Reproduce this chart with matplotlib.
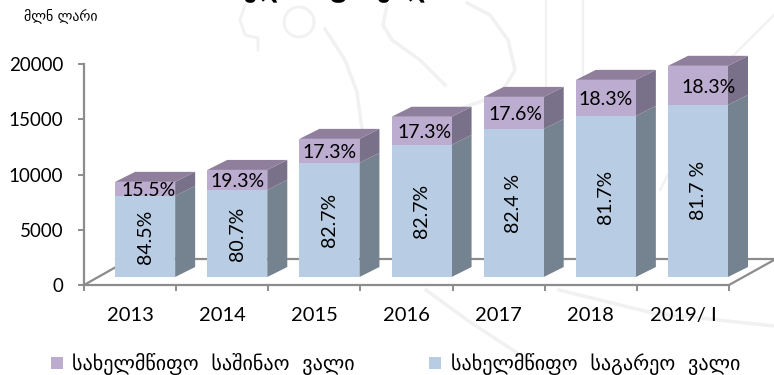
import numpy as np
import matplotlib
matplotlib.use("Agg")
import matplotlib.pyplot as plt

years = ["2013", "2014", "2015", "2016", "2017", "2018", "2019/ I"]
external = [7340, 7880, 10330, 11960, 13400, 14580, 15580]
domestic = [1270, 1810, 2170, 2540, 2900, 3260, 3530]
ext_labels = ["84.5%", "80.7%", "82.7%", "82.7%", "82.4 %", "81.7%", "81.7 %"]
dom_labels = ["15.5%", "19.3%", "17.3%", "17.3%", "17.6%", "18.3%", "18.3%"]
dom_shift = [3, 0, 0, 3, 2, 0, 11]  # px, labels are not all centred
yticks = [0, 5000, 10000, 15000, 20000]

W, H = 774, 375
font = "Lato"
geo = "DejaVu Sans"
grey = "#8c8c8c"
faint = "#f1f1f1"

fig = plt.figure(figsize=(W / 100, H / 100), dpi=100)

# faint watermark behind the chart, in px
bg = fig.add_axes([0, 0, 1, 1], zorder=0)
bg.set_xlim(0, W)
bg.set_ylim(H, 0)
bg.axis("off")
bg.plot([546, 546], [0, 150], color=faint, lw=1.6)
bg.plot([583, 583], [0, 80], color=faint, lw=1.6)
bg.plot([774, 727, 660], [15, 62, 190], color=faint, lw=1.6)
bg.plot([426, 470, 525, 555], [290, 322, 358, 375], color=faint, lw=2.5)
bg.plot([559, 653, 774], [290, 313, 326], color=faint, lw=2.5)
bg.plot([325, 345, 357, 362], [29, 60, 92, 130], color=faint, lw=2.5)
bg.plot([467, 490, 508, 515, 500, 456], [3, 15, 40, 70, 95, 110], color=faint, lw=2.5)
bg.plot([387, 383, 392, 420, 445], [5, 25, 40, 60, 85], color=faint, lw=2.5)
t = np.linspace(0, 2 * np.pi, 40)
bg.plot(299 + 15 * np.cos(t), 22 + 15 * np.sin(t), color=faint, lw=2)
bg.plot([245, 240, 245, 258, 258], [5, 20, 35, 38, 50], color=faint, lw=2)

# axes box in px: x 84..729, y 64..285
ax = fig.add_axes([84 / W, 1 - 285 / H, (729 - 84) / W, (285 - 64) / H], zorder=1)
ax.set_xlim(0, 7)
ax.set_ylim(0, 20000)
ax.patch.set_alpha(0)

xpx = 7 / (729 - 84)
ypx = 20000 / (285 - 64)
dx, dy = 20 * xpx, 10 * ypx
floor = 8 * ypx
width = 60 * xpx
x = np.arange(7) + 1 - 31 * xpx


def draw_block(xc, y0, y1, front, top, side):
    l, r = xc - width / 2, xc + width / 2
    ax.fill([r, r + dx, r + dx, r], [y0, y0 + dy, y1 + dy, y1], color=side, lw=0, zorder=3, clip_on=False)
    if top:
        ax.fill([l, l + dx, r + dx, r], [y1, y1 + dy, y1 + dy, y1], color=top, lw=0, zorder=3, clip_on=False)
    ax.bar(xc, y1 - y0, width=width, bottom=y0, color=front, lw=0, zorder=3, clip_on=False)


# floor lines
ax.plot([0, 32 * xpx], [0, 18 * ypx], color=grey, lw=1.6, clip_on=False, zorder=1)
ax.plot([32 * xpx, 7 + 45 * xpx], [26 * ypx, 26 * ypx], color=grey, lw=1.6, clip_on=False, zorder=1)
ax.plot([7, 7 + 45 * xpx], [0, 25 * ypx], color=grey, lw=1.6, clip_on=False, zorder=1)

for i in range(7):
    e0 = floor
    e1 = floor + external[i]
    d1 = e1 + domestic[i]
    draw_block(x[i], e0, e1, "#b8cce4", None, "#74838f")
    draw_block(x[i], e1, d1, "#bbacd0", "#8f7f9c", "#79708a")
    ax.text(x[i], (e0 + e1) / 2, ext_labels[i], rotation=90, ha="center", va="center",
            fontsize=14, family=font, color="black", zorder=5)
    ax.text(x[i] + dom_shift[i] * xpx, (e1 + d1) / 2 - 2 * ypx, dom_labels[i], ha="center", va="center",
            fontsize=14, family=font, color="black", zorder=5)

for s in ["top", "right"]:
    ax.spines[s].set_visible(False)
for s in ["left", "bottom"]:
    ax.spines[s].set_color(grey)
    ax.spines[s].set_linewidth(1.6)
ax.set_xticks(range(8))
ax.set_xticklabels([])
ax.set_yticks(yticks)
ax.set_yticklabels([str(v) for v in yticks], fontsize=13.5, family=font)
ax.tick_params(axis="both", color=grey, width=1.4, length=4.5)
ax.tick_params(axis="y", pad=10.5)
for i in range(7):
    ax.text(x[i] - 15 * xpx, -2800, years[i], ha="center", va="center", fontsize=14.5, family=font)

fig.text(24 / W, 1 - 16 / H, "მლნ ლარი", fontsize=10, family=geo, va="center")
fig.text(323 / W, 1 + 3 / H, "სახელმწიფო ვალი", fontsize=18, family=geo, ha="center", va="baseline", weight="bold")

fig.patches.append(plt.Rectangle((51 / W, 1 - 369 / H), 12 / W, 12 / H, transform=fig.transFigure, color="#bbacd0", lw=0))
fig.patches.append(plt.Rectangle((429 / W, 1 - 369 / H), 12 / W, 12 / H, transform=fig.transFigure, color="#b8cce4", lw=0))
fig.text(72 / W, 1 - 364 / H, "სახელმწიფო  საშინაო  ვალი", fontsize=14.5, family=geo, va="center")
fig.text(451 / W, 1 - 364 / H, "სახელმწიფო  საგარეო  ვალი", fontsize=14.5, family=geo, va="center")

fig.savefig("out.png", dpi=100)
